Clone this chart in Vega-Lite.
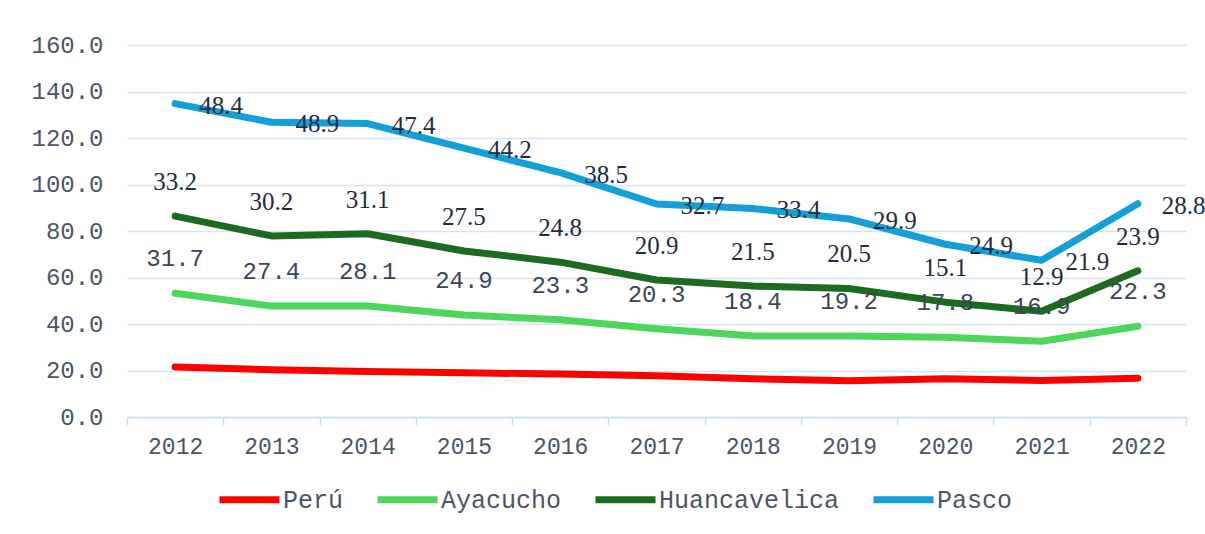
{
  "$schema": "https://vega.github.io/schema/vega-lite/v6.json",
  "width": 1059,
  "height": 372,
  "autosize": {"type": "none"},
  "padding": {"left": 127, "top": 45, "right": 19, "bottom": 117},
  "background": "white",
  "config": {"view": {"stroke": null}},
  "data": {"values": [
    {"year": "2012", "s": "Perú", "v": 21.5},
    {"year": "2013", "s": "Perú", "v": 20.3},
    {"year": "2014", "s": "Perú", "v": 19.6},
    {"year": "2015", "s": "Perú", "v": 19.0},
    {"year": "2016", "s": "Perú", "v": 18.5},
    {"year": "2017", "s": "Perú", "v": 17.7},
    {"year": "2018", "s": "Perú", "v": 16.4},
    {"year": "2019", "s": "Perú", "v": 15.6},
    {"year": "2020", "s": "Perú", "v": 16.5},
    {"year": "2021", "s": "Perú", "v": 15.7},
    {"year": "2022", "s": "Perú", "v": 16.7},
    {"year": "2012", "s": "Ayacucho", "v": 31.7},
    {"year": "2013", "s": "Ayacucho", "v": 27.4},
    {"year": "2014", "s": "Ayacucho", "v": 28.1},
    {"year": "2015", "s": "Ayacucho", "v": 24.9},
    {"year": "2016", "s": "Ayacucho", "v": 23.3},
    {"year": "2017", "s": "Ayacucho", "v": 20.3},
    {"year": "2018", "s": "Ayacucho", "v": 18.4},
    {"year": "2019", "s": "Ayacucho", "v": 19.2},
    {"year": "2020", "s": "Ayacucho", "v": 17.8},
    {"year": "2021", "s": "Ayacucho", "v": 16.9},
    {"year": "2022", "s": "Ayacucho", "v": 22.3},
    {"year": "2012", "s": "Huancavelica", "v": 33.2},
    {"year": "2013", "s": "Huancavelica", "v": 30.2},
    {"year": "2014", "s": "Huancavelica", "v": 31.1},
    {"year": "2015", "s": "Huancavelica", "v": 27.5},
    {"year": "2016", "s": "Huancavelica", "v": 24.8},
    {"year": "2017", "s": "Huancavelica", "v": 20.9},
    {"year": "2018", "s": "Huancavelica", "v": 21.5},
    {"year": "2019", "s": "Huancavelica", "v": 20.5},
    {"year": "2020", "s": "Huancavelica", "v": 15.1},
    {"year": "2021", "s": "Huancavelica", "v": 12.9},
    {"year": "2022", "s": "Huancavelica", "v": 23.9},
    {"year": "2012", "s": "Pasco", "v": 48.4},
    {"year": "2013", "s": "Pasco", "v": 48.9},
    {"year": "2014", "s": "Pasco", "v": 47.4},
    {"year": "2015", "s": "Pasco", "v": 44.2},
    {"year": "2016", "s": "Pasco", "v": 38.5},
    {"year": "2017", "s": "Pasco", "v": 32.7},
    {"year": "2018", "s": "Pasco", "v": 33.4},
    {"year": "2019", "s": "Pasco", "v": 29.9},
    {"year": "2020", "s": "Pasco", "v": 24.9},
    {"year": "2021", "s": "Pasco", "v": 21.9},
    {"year": "2022", "s": "Pasco", "v": 28.8}
  ]},
  "transform": [
    {"calculate": "indexof(['Perú','Ayacucho','Huancavelica','Pasco'], datum.s)", "as": "ord"},
    {"stack": "v", "groupby": ["year"], "sort": [{"field": "ord", "order": "ascending"}], "as": ["y0", "y1"]}
  ],
  "encoding": {
    "x": {
      "field": "year", "type": "ordinal", "bandPosition": 0.5,
      "scale": {"type": "band", "paddingInner": 0, "paddingOuter": 0},
      "axis": {
        "title": null, "labelAngle": 0, "grid": false,
        "tickBand": "extent", "tickSize": 8, "tickColor": "#cfdcef", "tickWidth": 1.5,
        "domainColor": "#cfdcef", "domainWidth": 1.5,
        "labelFont": "Liberation Mono", "labelFontSize": 23, "labelColor": "#4a5668",
        "labelPadding": 10
      }
    },
    "y": {
      "field": "y1", "type": "quantitative",
      "scale": {"domain": [0, 160], "nice": false},
      "axis": {
        "title": null, "values": [0, 20, 40, 60, 80, 100, 120, 140, 160], "format": ".1f",
        "domain": false, "ticks": false, "tickSize": 0,
        "gridColor": "#d6e3f4", "gridWidth": 1.5,
        "labelFont": "Liberation Mono", "labelFontSize": 24, "labelColor": "#4a5668",
        "labelPadding": 24
      }
    }
  },
  "layer": [
    {
      "mark": {"type": "line", "strokeWidth": 7, "strokeCap": "round", "strokeJoin": "round"},
      "encoding": {
        "color": {
          "field": "s", "type": "nominal",
          "scale": {"domain": ["Perú", "Ayacucho", "Huancavelica", "Pasco"], "range": ["#ff0000", "#4cd65b", "#1c6b21", "#139fd7"]},
          "legend": {
            "title": null, "orient": "none", "direction": "horizontal",
            "legendX": 89, "legendY": 421,
            "symbolType": "stroke", "symbolSize": 3600, "symbolStrokeWidth": 7,
            "labelFont": "Liberation Mono", "labelFontSize": 25, "labelColor": "#4a5668",
            "labelLimit": 400, "labelOffset": 0, "columnPadding": 19
          }
        }
      }
    },
    {
      "transform": [{"filter": "datum.s == 'Ayacucho'"}],
      "mark": {"type": "text", "dy": -34, "font": "Liberation Mono", "fontSize": 24, "color": "#3a4658"},
      "encoding": {"text": {"field": "v", "type": "quantitative", "format": ".1f"}}
    },
    {
      "transform": [{"filter": "datum.s == 'Huancavelica'"}],
      "mark": {"type": "text", "dy": -34, "font": "Liberation Serif", "fontSize": 25, "color": "#1f2d40"},
      "encoding": {"text": {"field": "v", "type": "quantitative", "format": ".1f"}}
    },
    {
      "transform": [{"filter": "datum.s == 'Pasco'"}],
      "mark": {"type": "text", "dx": 24, "dy": 2, "align": "left", "font": "Liberation Serif", "fontSize": 25, "color": "#1f2d40"},
      "encoding": {"text": {"field": "v", "type": "quantitative", "format": ".1f"}}
    }
  ]
}
